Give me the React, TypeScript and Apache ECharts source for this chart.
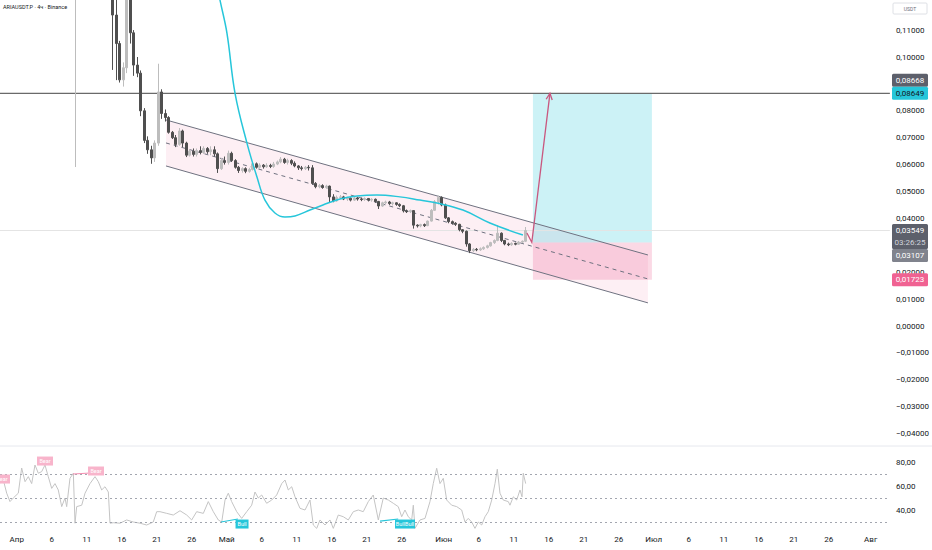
import React, { useEffect, useRef } from 'react';
import * as echarts from 'echarts';

const TITLE = 'ARIAUSDT.P · 4ч · Binance';
const QUOTE = 'USDT';

// x is measured in days, 0 = 1 April
const X_MIN = -2.386;
const X_MAX = 124.76;
const TICK_DAYS = [0, 5, 10, 15, 20, 25, 30, 35, 40, 45, 50, 55, 61, 66, 71, 76, 81, 86, 91, 96, 101, 106, 111, 116, 122];
const TICK_LABELS = ['Апр', '6', '11', '16', '21', '26', 'Май', '6', '11', '16', '21', '26', 'Июн', '6', '11', '16', '21', '26', 'Июл', '6', '11', '16', '21', '26', 'Авг'];

const PRICE_MIN = -0.05;
const PRICE_MAX = 0.13;
const PRICE_STEP = 0.01;
const HIDDEN_PRICE_TICKS = [13, 12, 9, 3, -5];
const RSI_MIN = 20;
const RSI_MAX = 100;
const RSI_STEP = 20;
const RSI_TICKS = [40, 60, 80];
const RSI_LEVELS = [70, 50, 30];

// [day, open, close, low, high]
const CANDLES: number[][] = [
  [-2, 0.16, 0.172, 0.155, 0.178],
  [-1, 0.172, 0.165, 0.158, 0.176],
  [0, 0.165, 0.178, 0.16, 0.185],
  [1, 0.178, 0.17, 0.165, 0.183],
  [2, 0.17, 0.19, 0.168, 0.196],
  [3, 0.19, 0.185, 0.18, 0.198],
  [4, 0.185, 0.2, 0.182, 0.206],
  [5, 0.2, 0.188, 0.182, 0.203],
  [6, 0.188, 0.176, 0.17, 0.19],
  [7, 0.176, 0.19, 0.172, 0.195],
  [8.5, 0.19, 0.195, 0.0591, 0.2],
  [9.5, 0.195, 0.185, 0.18, 0.2],
  [10.5, 0.185, 0.196, 0.182, 0.2],
  [11.5, 0.196, 0.19, 0.185, 0.205],
  [12.5, 0.19, 0.16, 0.155, 0.192],
  [13.25, 0.16, 0.135, 0.13, 0.162],
  [13.75, 0.135, 0.1156, 0.0952, 0.138],
  [14.25, 0.1156, 0.105, 0.0914, 0.124],
  [14.75, 0.105, 0.0915, 0.0905, 0.106],
  [15.25, 0.0915, 0.096, 0.089, 0.098],
  [15.75, 0.096, 0.128, 0.094, 0.135],
  [16.25, 0.128, 0.109, 0.105, 0.13],
  [16.75, 0.109, 0.097, 0.093, 0.11],
  [17.25, 0.097, 0.094, 0.0925, 0.1],
  [17.75, 0.094, 0.08, 0.078, 0.095],
  [18.25, 0.08, 0.069, 0.068, 0.081],
  [18.75, 0.069, 0.0655, 0.064, 0.0705],
  [19.25, 0.0655, 0.0625, 0.0603, 0.067],
  [19.75, 0.0625, 0.068, 0.061, 0.069],
  [20.25, 0.068, 0.087, 0.067, 0.0975],
  [20.75, 0.087, 0.079, 0.077, 0.088],
  [21.25, 0.079, 0.0775, 0.076, 0.0805],
  [21.75, 0.0775, 0.072, 0.0715, 0.078],
  [22.25, 0.072, 0.07, 0.0695, 0.0725],
  [22.75, 0.07, 0.0675, 0.0665, 0.071],
  [23.25, 0.0675, 0.0725, 0.067, 0.0736],
  [23.75, 0.0725, 0.068, 0.0665, 0.073],
  [24.25, 0.068, 0.0635, 0.0628, 0.0685],
  [24.75, 0.0635, 0.065, 0.063, 0.0658],
  [25.25, 0.065, 0.0638, 0.063, 0.066],
  [25.75, 0.0638, 0.0652, 0.063, 0.066],
  [26.25, 0.0652, 0.0645, 0.0638, 0.0668],
  [26.75, 0.0645, 0.066, 0.064, 0.0668],
  [27.25, 0.066, 0.0648, 0.064, 0.0665],
  [27.75, 0.0648, 0.0655, 0.0635, 0.0668],
  [28.25, 0.0655, 0.064, 0.063, 0.0668],
  [28.75, 0.064, 0.0585, 0.0569, 0.0645],
  [29.25, 0.0585, 0.0615, 0.058, 0.0625],
  [29.75, 0.0615, 0.0608, 0.06, 0.063],
  [30.25, 0.0608, 0.0642, 0.06, 0.0652],
  [30.75, 0.0642, 0.0615, 0.061, 0.0648],
  [31.25, 0.0615, 0.059, 0.0585, 0.062],
  [31.75, 0.059, 0.0578, 0.0569, 0.0595],
  [32.25, 0.0578, 0.0585, 0.057, 0.059],
  [32.75, 0.0585, 0.0575, 0.0568, 0.059],
  [33.25, 0.0575, 0.0582, 0.057, 0.0588],
  [33.75, 0.0582, 0.0603, 0.0578, 0.061],
  [34.25, 0.0603, 0.059, 0.0585, 0.0608],
  [34.75, 0.059, 0.0598, 0.0585, 0.0605],
  [35.25, 0.0598, 0.0592, 0.0585, 0.0602],
  [35.75, 0.0592, 0.0597, 0.0588, 0.0605],
  [36.25, 0.0597, 0.0593, 0.0587, 0.0603],
  [36.75, 0.0593, 0.0602, 0.0588, 0.061],
  [37.25, 0.0602, 0.061, 0.0598, 0.0615],
  [37.75, 0.061, 0.062, 0.0605, 0.0628],
  [38.25, 0.062, 0.0608, 0.0603, 0.0625],
  [38.75, 0.0608, 0.0615, 0.06, 0.0622],
  [39.25, 0.0615, 0.0605, 0.0598, 0.062],
  [39.75, 0.0605, 0.0595, 0.059, 0.0612],
  [40.25, 0.0595, 0.0588, 0.058, 0.0598],
  [40.75, 0.0588, 0.0585, 0.0578, 0.0595],
  [41.25, 0.0585, 0.059, 0.058, 0.0595],
  [41.75, 0.059, 0.0588, 0.0578, 0.0598],
  [42.25, 0.0588, 0.053, 0.0525, 0.0598],
  [42.75, 0.053, 0.0518, 0.0512, 0.0535],
  [43.25, 0.0518, 0.0522, 0.0512, 0.0528],
  [43.75, 0.0522, 0.0515, 0.051, 0.0527],
  [44.25, 0.0515, 0.052, 0.051, 0.0525],
  [44.75, 0.052, 0.048, 0.046, 0.0522],
  [45.25, 0.048, 0.0465, 0.046, 0.049],
  [45.75, 0.0465, 0.0478, 0.0462, 0.0485],
  [46.25, 0.0478, 0.048, 0.0472, 0.0487],
  [46.75, 0.048, 0.0472, 0.0468, 0.0484],
  [47.25, 0.0472, 0.0475, 0.0465, 0.048],
  [47.75, 0.0475, 0.0468, 0.0463, 0.0478],
  [48.25, 0.0468, 0.0476, 0.0465, 0.048],
  [48.75, 0.0476, 0.0472, 0.0466, 0.048],
  [49.25, 0.0472, 0.047, 0.0464, 0.0477],
  [49.75, 0.047, 0.0474, 0.0465, 0.0478],
  [50.25, 0.0474, 0.0468, 0.0463, 0.0476],
  [50.75, 0.0468, 0.0471, 0.0462, 0.0475],
  [51.25, 0.0471, 0.0463, 0.0458, 0.0474],
  [51.75, 0.0463, 0.0446, 0.0435, 0.0465],
  [52.25, 0.0446, 0.0458, 0.0443, 0.0462],
  [52.75, 0.0458, 0.0461, 0.0453, 0.0466],
  [53.25, 0.0461, 0.0455, 0.045, 0.0465],
  [53.75, 0.0455, 0.0458, 0.0448, 0.0462],
  [54.25, 0.0458, 0.0452, 0.0447, 0.046],
  [54.75, 0.0452, 0.0447, 0.0442, 0.0456],
  [55.25, 0.0447, 0.0428, 0.0422, 0.045],
  [55.75, 0.0428, 0.0425, 0.042, 0.0433],
  [56.25, 0.0425, 0.0429, 0.042, 0.0433],
  [56.75, 0.0429, 0.0375, 0.0362, 0.043],
  [57.25, 0.0375, 0.0372, 0.0366, 0.0378],
  [57.75, 0.0372, 0.0377, 0.0367, 0.038],
  [58.25, 0.0377, 0.0373, 0.0368, 0.0381],
  [58.75, 0.0373, 0.039, 0.0371, 0.0392],
  [59.25, 0.039, 0.043, 0.0388, 0.0435],
  [59.75, 0.043, 0.0462, 0.0428, 0.0468],
  [60.25, 0.0462, 0.0478, 0.0452, 0.0485],
  [60.75, 0.0478, 0.045, 0.0445, 0.0482],
  [61.25, 0.045, 0.0402, 0.0398, 0.0455],
  [61.75, 0.0402, 0.0388, 0.0382, 0.0405],
  [62.25, 0.0388, 0.0382, 0.0377, 0.0392],
  [62.75, 0.0382, 0.0378, 0.0372, 0.0386],
  [63.25, 0.0378, 0.0358, 0.0352, 0.038],
  [63.75, 0.0358, 0.0352, 0.0345, 0.036],
  [64.25, 0.0352, 0.0305, 0.0295, 0.0355],
  [64.75, 0.0305, 0.028, 0.0271, 0.0308],
  [65.25, 0.028, 0.0285, 0.0275, 0.029],
  [65.75, 0.0285, 0.0283, 0.0278, 0.029],
  [66.25, 0.0283, 0.0287, 0.0279, 0.0292],
  [66.75, 0.0287, 0.0292, 0.0283, 0.0296],
  [67.25, 0.0292, 0.0298, 0.0288, 0.0302],
  [67.75, 0.0298, 0.031, 0.0295, 0.0313],
  [68.25, 0.031, 0.0318, 0.0305, 0.0322],
  [68.75, 0.0318, 0.0345, 0.0315, 0.0375],
  [69.25, 0.0345, 0.0318, 0.0312, 0.0348],
  [69.75, 0.0318, 0.0305, 0.03, 0.032],
  [70.25, 0.0305, 0.0302, 0.0297, 0.031],
  [70.75, 0.0302, 0.0307, 0.0298, 0.0311],
  [71.25, 0.0307, 0.0304, 0.03, 0.031],
  [71.75, 0.0304, 0.0312, 0.0302, 0.0316],
  [72.25, 0.0312, 0.0315, 0.0308, 0.0318],
  [72.75, 0.0315, 0.03549, 0.0312, 0.0368],
];

// cyan regression curve [day, price]
const CURVE: number[][] = [
  [28.19, 0.1323], [29.04, 0.1212], [30.04, 0.1089], [31.19, 0.0866], [32.9, 0.068],
  [34.33, 0.0554], [35.47, 0.0468], [36.9, 0.042], [38.33, 0.0405], [39.76, 0.0409],
  [41.9, 0.0431], [43.76, 0.045], [46.19, 0.0472], [48.61, 0.0483], [51.47, 0.0487],
  [54.76, 0.048], [57.61, 0.0468], [60.04, 0.0457], [63.76, 0.0431], [67.61, 0.0383],
  [72.33, 0.0338],
];

// RSI [day, value]
const RSI: number[][] = [
  [-2.39, 62.2], [-1.91, 65], [-1.43, 54], [-0.96, 47], [-0.49, 50], [0.23, 54], [0.71, 75],
  [1.19, 63.6], [1.66, 67.8], [2.14, 62], [2.61, 77.5], [3.09, 70.6], [3.57, 72], [4.04, 77.5],
  [4.51, 67.8], [5.0, 58], [5.47, 62], [5.94, 56.7], [6.43, 42.8], [6.9, 50], [7.14, 42.8],
  [7.61, 66.4], [8.09, 70.6], [8.33, 29], [8.57, 42.8], [9.29, 44], [9.76, 54], [10.47, 62],
  [11.19, 67.8], [11.66, 63.6], [12.14, 56.7], [12.61, 59.4], [13.09, 55], [13.33, 29],
  [13.8, 29.4], [14.76, 29], [15.71, 31.7], [16.66, 30], [17.61, 29], [18.57, 27.5], [19.51, 30],
  [20.0, 38.6], [20.47, 38.6], [21.43, 37.2], [22.37, 35.8], [23.33, 39.4], [24.29, 35.8],
  [25.0, 31.7], [25.71, 38.6], [26.66, 37.2], [27.37, 47], [28.09, 38.6], [28.8, 31.7],
  [29.29, 30], [29.76, 48.3], [30.23, 54], [30.71, 47], [31.43, 38.6], [32.14, 33], [32.86, 38.6],
  [33.57, 44], [34.04, 55], [34.51, 50], [35.0, 52.5], [35.71, 45.6], [36.43, 48.3], [37.14, 52.5],
  [37.86, 62], [38.33, 65], [38.8, 56.7], [39.29, 59.4], [39.76, 51], [40.47, 41.4], [41.19, 40],
  [41.9, 48.3], [42.37, 27.5], [42.86, 24.7], [43.33, 31.7], [44.04, 27.5], [44.76, 31.7],
  [45.23, 24.7], [45.94, 35.8], [46.66, 34.4], [47.37, 31.7], [48.09, 38.6], [48.8, 40],
  [49.51, 38.6], [50.23, 47], [50.94, 52.5], [51.66, 31.7], [52.37, 50], [53.09, 48.3],
  [53.8, 45.6], [54.51, 42.8], [55.0, 34.4], [55.47, 40], [55.94, 34.4], [56.43, 31.7],
  [56.66, 44], [56.9, 24.7], [57.61, 31.7], [58.33, 33], [59.04, 47], [59.51, 62], [60.0, 74.8],
  [60.47, 62], [60.94, 66.4], [61.43, 48.3], [62.14, 44], [62.86, 42.8], [63.57, 40], [64.04, 30],
  [64.51, 33], [65.0, 30], [65.47, 24.7], [65.94, 30], [66.43, 27.5], [66.9, 34.4], [67.37, 38.6],
  [67.86, 48.3], [68.33, 62], [68.66, 74], [69.04, 54], [69.51, 48.3], [70.23, 47], [70.47, 44],
  [70.94, 51], [71.43, 48.3], [71.9, 56.7], [72.19, 51], [72.37, 70.6], [72.71, 62],
];

const BEAR_MARKS: number[][] = [[-2.1, 65.8], [4.04, 80.8], [11.33, 72.5]];
const BULL_MARKS: [number, number, string][] = [[32.19, 28.3, 'Bull'], [55.47, 28.3, 'BullBull']];
const BEAR_LINES: number[][][] = [[[8.04, 70], [10.47, 70.8]]];
const BULL_LINES: number[][][] = [[[29.19, 30], [31.6, 32.5]], [[51.9, 30.8], [54.5, 32.5]]];

const CHANNEL_DAYS = [21.33, 90.19];
const CHANNEL_UPPER = [0.0766, 0.0264];
const CHANNEL_LOWER = [0.0595, 0.0086];

const POSITION_DAYS = [73.76, 90.76];
const ENTRY = 0.03107;
const TARGET = 0.08649;
const STOP = 0.01723;
const ARROW: number[][] = [[72.9, 0.0346], [73.6, 0.03107], [76.19, 0.08649]];

const LEVEL_LINE = 0.08649;
const EXTRA_LEVEL = 0.08668;
const LAST_PRICE = 0.03549;
const COUNTDOWN = '03:26:25';

// layout: the chart canvas starts OFF px above the page so the price grid can reach beyond the top
const OFF = 30;
const PX_PER_UNIT = 2690;
const ZERO_Y = 326;

const FONT = 'Roboto, "Liberation Sans", sans-serif';
const TEXT = '#131722';
const CYAN = '#26c6da';
const ARROW_COLOR = '#c9577f';

const fmtPrice = (v: number) => {
  const k = Math.round(v * 100);
  if (HIDDEN_PRICE_TICKS.includes(k)) return '';
  const s = Math.abs(v).toFixed(5).replace('.', ',');
  return (v < -1e-9 ? '\u2212' : '') + s;
};

export default function App() {
  const ref = useRef<HTMLDivElement>(null);

  useEffect(() => {
    if (!ref.current) return;
    const chart = echarts.init(ref.current, undefined, { renderer: 'svg' });

    const option: any = {
      animation: false,
      backgroundColor: '#ffffff',
      grid: [
        {
          left: 0, right: 42,
          top: OFF + ZERO_Y - PRICE_MAX * PX_PER_UNIT,
          height: (PRICE_MAX - PRICE_MIN) * PX_PER_UNIT,
        },
        { left: 0, right: 42, top: OFF + 438, height: 96 },
      ],
      xAxis: [
        {
          type: 'value', gridIndex: 0, min: X_MIN, max: X_MAX,
          axisLine: { show: false }, axisTick: { show: false }, axisLabel: { show: false }, splitLine: { show: false },
        },
        {
          type: 'value', gridIndex: 1, min: X_MIN, max: X_MAX,
          axisLine: { show: false }, axisTick: { show: false }, splitLine: { show: false },
          axisLabel: {
            customValues: TICK_DAYS,
            margin: 1,
            color: TEXT,
            fontSize: 8,
            fontFamily: FONT,
            formatter: (v: number) => {
              const i = TICK_DAYS.findIndex((d) => Math.abs(d - v) < 1e-6);
              return i >= 0 ? TICK_LABELS[i] : '';
            },
          },
        },
      ],
      yAxis: [
        {
          type: 'value', gridIndex: 0, position: 'right', min: PRICE_MIN, max: PRICE_MAX, interval: PRICE_STEP,
          axisLine: { show: false }, axisTick: { show: false }, splitLine: { show: false },
          axisLabel: { margin: 6, color: TEXT, fontSize: 8, fontFamily: FONT, formatter: fmtPrice },
        },
        {
          type: 'value', gridIndex: 1, position: 'right', min: RSI_MIN, max: RSI_MAX, interval: RSI_STEP,
          axisLine: { show: false }, axisTick: { show: false }, splitLine: { show: false },
          axisLabel: {
            margin: 6, color: TEXT, fontSize: 8, fontFamily: FONT,
            formatter: (v: number) => (RSI_TICKS.includes(v) ? v.toFixed(2).replace('.', ',') : ''),
          },
        },
      ],
      series: [
        {
          type: 'custom',
          xAxisIndex: 0, yAxisIndex: 0,
          z: 1,
          silent: true,
          data: [[CHANNEL_DAYS[0], CHANNEL_UPPER[0]]],
          renderItem: (_p: any, api: any) => {
            const u0 = api.coord([CHANNEL_DAYS[0], CHANNEL_UPPER[0]]);
            const u1 = api.coord([CHANNEL_DAYS[1], CHANNEL_UPPER[1]]);
            const l0 = api.coord([CHANNEL_DAYS[0], CHANNEL_LOWER[0]]);
            const l1 = api.coord([CHANNEL_DAYS[1], CHANNEL_LOWER[1]]);
            const m0 = [(u0[0] + l0[0]) / 2, (u0[1] + l0[1]) / 2];
            const m1 = [(u1[0] + l1[0]) / 2, (u1[1] + l1[1]) / 2];
            const tTop = api.coord([POSITION_DAYS[0], TARGET]);
            const eTop = api.coord([POSITION_DAYS[1], ENTRY]);
            const sBot = api.coord([POSITION_DAYS[1], STOP]);
            const x0 = api.coord([X_MIN, LEVEL_LINE]);
            const x1 = api.coord([X_MAX, LEVEL_LINE]);
            const c0 = api.coord([X_MIN, LAST_PRICE]);
            const c1 = api.coord([X_MAX, LAST_PRICE]);
            const lineStyle = { stroke: '#6f7280', lineWidth: 1 };
            return {
              type: 'group',
              children: [
                { type: 'polygon', shape: { points: [u0, u1, l1, l0] }, style: { fill: 'rgba(233,30,99,0.07)' } },
                {
                  type: 'rect',
                  shape: { x: tTop[0], y: tTop[1], width: eTop[0] - tTop[0], height: eTop[1] - tTop[1] },
                  style: { fill: 'rgba(0,188,212,0.2)' },
                },
                {
                  type: 'rect',
                  shape: { x: tTop[0], y: eTop[1], width: sBot[0] - tTop[0], height: sBot[1] - eTop[1] },
                  style: { fill: 'rgba(233,30,99,0.17)' },
                },
                { type: 'line', shape: { x1: c0[0], y1: c0[1], x2: c1[0], y2: c1[1] }, style: { stroke: '#e4e4e4', lineWidth: 1 } },
                { type: 'line', shape: { x1: u0[0], y1: u0[1], x2: u1[0], y2: u1[1] }, style: lineStyle },
                { type: 'line', shape: { x1: l0[0], y1: l0[1], x2: l1[0], y2: l1[1] }, style: lineStyle },
                {
                  type: 'line', shape: { x1: m0[0], y1: m0[1], x2: m1[0], y2: m1[1] },
                  style: { stroke: '#6f7280', lineWidth: 1, lineDash: [4, 4] },
                },
                { type: 'line', shape: { x1: x0[0], y1: x0[1], x2: x1[0], y2: x1[1] }, style: { stroke: '#6a6a6a', lineWidth: 1.2 } },
              ],
            };
          },
        },
        {
          type: 'candlestick',
          xAxisIndex: 0, yAxisIndex: 0,
          z: 2,
          barWidth: 2.6,
          data: CANDLES,
          itemStyle: {
            color: '#bdbdbd', color0: '#4f4f4f',
            borderColor: '#bdbdbd', borderColor0: '#4f4f4f', borderWidth: 1,
          },
        },
        {
          type: 'line',
          xAxisIndex: 0, yAxisIndex: 0,
          z: 3,
          data: CURVE,
          smooth: 0.4,
          showSymbol: false,
          lineStyle: { color: CYAN, width: 1.5 },
        },
        {
          type: 'custom',
          xAxisIndex: 0, yAxisIndex: 0,
          z: 4,
          silent: true,
          data: [ARROW[0]],
          renderItem: (_p: any, api: any) => {
            const pts = ARROW.map((p) => api.coord(p));
            const n = pts.length;
            const [ex, ey] = pts[n - 1];
            const [sx, sy] = pts[n - 2];
            const len = Math.hypot(ex - sx, ey - sy);
            const ux = (ex - sx) / len;
            const uy = (ey - sy) / len;
            const h = 7;
            const rot = (a: number) => [
              ex - h * (ux * Math.cos(a) - uy * Math.sin(a)),
              ey - h * (ux * Math.sin(a) + uy * Math.cos(a)),
            ];
            return {
              type: 'group',
              children: [
                { type: 'polyline', shape: { points: pts }, style: { stroke: ARROW_COLOR, lineWidth: 1.3, fill: null } },
                {
                  type: 'polyline',
                  shape: { points: [rot(0.45), [ex, ey], rot(-0.45)] },
                  style: { stroke: ARROW_COLOR, lineWidth: 1.3, fill: null },
                },
              ],
            };
          },
        },
        {
          type: 'line',
          xAxisIndex: 1, yAxisIndex: 1,
          data: RSI,
          showSymbol: false,
          lineStyle: { color: '#c4c4c4', width: 1 },
          markLine: {
            silent: true,
            symbol: ['none', 'none'],
            label: { show: false },
            data: [
              ...RSI_LEVELS.map((v) => ({ yAxis: v, lineStyle: { color: '#a3a6af', width: 1, type: [2, 3] } })),
              ...BEAR_LINES.map((seg) => [
                { coord: seg[0], lineStyle: { color: '#f48fb1', width: 1, type: 'solid' } },
                { coord: seg[1] },
              ]),
              ...BULL_LINES.map((seg) => [
                { coord: seg[0], lineStyle: { color: CYAN, width: 1.2, type: 'solid' } },
                { coord: seg[1] },
              ]),
            ],
          },
          markPoint: {
            silent: true,
            data: [
              ...BEAR_MARKS.map((m) => ({
                coord: m, symbol: 'rect', symbolSize: [16, 9],
                itemStyle: { color: '#f8b4cb' },
                label: { show: true, formatter: 'Bear', color: '#ffffff', fontSize: 5.5, fontFamily: FONT, position: 'inside' },
              })),
              ...BULL_MARKS.map((m) => ({
                coord: [m[0], m[1]], symbol: 'rect', symbolSize: [m[2].length > 4 ? 20 : 13, 9],
                itemStyle: { color: CYAN },
                label: { show: true, formatter: m[2], color: '#ffffff', fontSize: 5.5, fontFamily: FONT, position: 'inside' },
              })),
            ],
          },
        },
      ],
    };

    chart.setOption(option);

    const py = (p: number) => chart.convertToPixel({ yAxisIndex: 0 }, p) as unknown as number;
    const bx = 892;
    const bw = 36;
    const bh = 13;
    const badge = (top: number, h: number, bg: string) => ({
      type: 'rect', z: 100, shape: { x: bx, y: top, width: bw, height: h, r: 1.5 }, style: { fill: bg },
    });
    const btext = (cy: number, txt: string, color: string) => ({
      type: 'text', z: 101,
      style: { text: txt, x: bx + bw / 2, y: cy, fill: color, fontSize: 8, fontFamily: FONT, align: 'center', verticalAlign: 'middle' },
    });

    const levelY = py(LEVEL_LINE);
    const closeY = py(LAST_PRICE);
    const stopY = py(STOP);
    const closeTop = closeY - bh / 2;
    const entryTop = closeTop + 25;

    chart.setOption({
      graphic: [
        {
          type: 'text', z: 100, left: 3, top: OFF + 4,
          style: { text: TITLE, fill: TEXT, fontSize: 5.5, fontFamily: FONT },
        },
        { type: 'rect', z: 100, shape: { x: 893, y: OFF + 3, width: 34, height: 11, r: 1 }, style: { fill: '#fff', stroke: '#d6d8de', lineWidth: 0.8 } },
        {
          type: 'text', z: 101,
          style: { text: QUOTE, x: 910, y: OFF + 8.5, fill: '#6a6d78', fontSize: 5, fontFamily: FONT, align: 'center', verticalAlign: 'middle' },
        },
        { type: 'line', z: 100, shape: { x1: 0, y1: OFF + 446, x2: 932, y2: OFF + 446 }, style: { stroke: '#e6e8ee', lineWidth: 1 } },
        badge(levelY - bh / 2 - bh, bh, '#5d606b'),
        btext(levelY - bh, EXTRA_LEVEL.toFixed(5).replace('.', ','), '#ffffff'),
        badge(levelY - bh / 2, bh, CYAN),
        btext(levelY, LEVEL_LINE.toFixed(5).replace('.', ','), TEXT),
        badge(closeTop, 25, '#5d606b'),
        btext(closeY, LAST_PRICE.toFixed(5).replace('.', ','), '#ffffff'),
        btext(closeY + 12, COUNTDOWN, '#d1d4dc'),
        badge(entryTop, bh, '#80838d'),
        btext(entryTop + bh / 2, ENTRY.toFixed(5).replace('.', ','), '#ffffff'),
        badge(stopY - bh / 2, bh, '#f06292'),
        btext(stopY, STOP.toFixed(5).replace('.', ','), '#ffffff'),
      ],
    });

    return () => chart.dispose();
  }, []);

  return (
    <div style={{ position: 'absolute', left: 0, top: 0, width: 932, height: 550, overflow: 'hidden', background: '#fff' }}>
      <div
        ref={ref}
        style={{ position: 'absolute', left: 0, top: -OFF, width: 932, height: 550 + OFF }}
      />
    </div>
  );
}
